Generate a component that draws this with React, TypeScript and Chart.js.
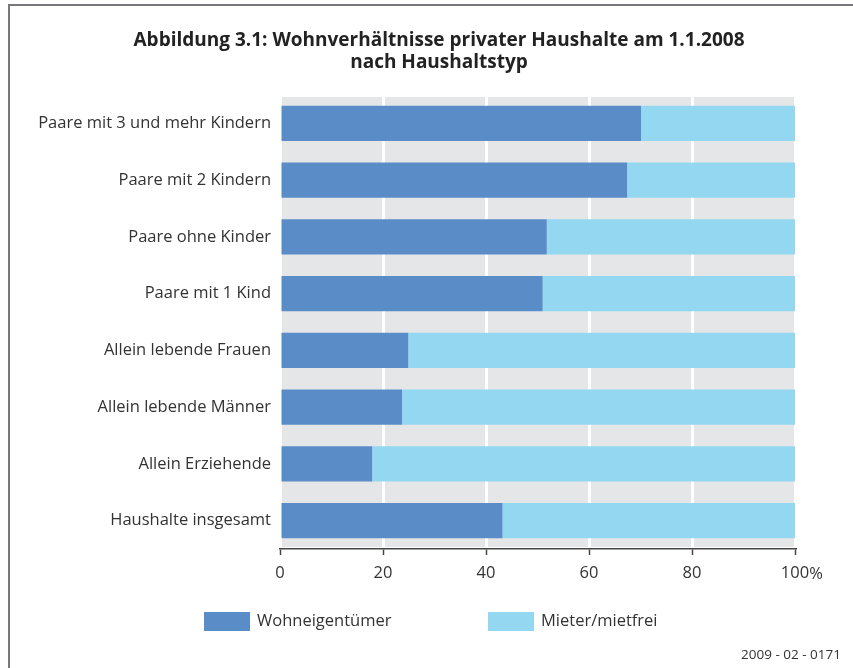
import React, { useEffect, useRef } from "react";
import { Chart, registerables } from "chart.js";

Chart.register(...registerables);

const categories = [
  "Paare mit 3 und mehr Kindern",
  "Paare mit 2 Kindern",
  "Paare ohne Kinder",
  "Paare mit 1 Kind",
  "Allein lebende Frauen",
  "Allein lebende Männer",
  "Allein Erziehende",
  "Haushalte insgesamt",
];
const eigentuemer = [70.1, 67.4, 51.8, 51.0, 24.9, 23.7, 17.9, 43.2];
const mieter = [29.9, 32.6, 48.2, 49.0, 75.1, 76.3, 82.1, 56.8];
const seriesNames = ["Wohneigentümer", "Mieter/mietfrei"];
const xTicks = [0, 20, 40, 60, 80, 100];
const titleLines = [
  "Abbildung 3.1: Wohnverhältnisse privater Haushalte am 1.1.2008",
  "nach Haushaltstyp",
];
const sourceText = "2009 - 02 - 0171";

const DARK = "#5a8dc8";
const LIGHT = "#94d7f0";
const GRAY = "#e5e6e8";
const TEXT = "#333333";
const FONT = "'Open Sans', 'Noto Sans', sans-serif";

const decorPlugin = {
  id: "decor",
  beforeDraw(chart: any) {
    const { ctx, chartArea } = chart;
    ctx.save();
    ctx.fillStyle = "#ffffff";
    ctx.fillRect(0, 0, chart.width, chart.height);
    // frame
    ctx.fillStyle = "#78787c";
    ctx.fillRect(8, 4, chart.width - 8, 2);
    ctx.fillRect(8, 4, 2, chart.height - 4);
    // gray plot background
    ctx.fillStyle = GRAY;
    ctx.fillRect(chartArea.left + 1, chartArea.top + 2, chartArea.right - chartArea.left - 2, chartArea.bottom - chartArea.top - 4);
    ctx.restore();
  },
  afterDraw(chart: any) {
    const { ctx } = chart;
    ctx.save();
    // title
    ctx.fillStyle = "#222222";
    ctx.font = `bold 19px ${FONT}`;
    ctx.textAlign = "center";
    ctx.textBaseline = "middle";
    ctx.fillText(titleLines[0], 439, 41);
    ctx.fillText(titleLines[1], 439, 63);
    // percent sign after 100
    const xs = chart.scales.x;
    ctx.font = `16.5px ${FONT}`;
    ctx.fillStyle = TEXT;
    const w100 = ctx.measureText("100").width;
    ctx.textAlign = "left";
    ctx.fillText("%", xs.getPixelForValue(100) + w100 / 2, 574);
    // legend
    const colors = [DARK, LIGHT];
    const boxX = [204, 488];
    ctx.font = `16.5px ${FONT}`;
    ctx.textBaseline = "middle";
    for (let i = 0; i < 2; i++) {
      ctx.fillStyle = colors[i];
      ctx.fillRect(boxX[i], 612, 46, 19);
      ctx.fillStyle = TEXT;
      ctx.fillText(seriesNames[i], boxX[i] + 53, 621);
    }
    // source
    ctx.font = `13.5px ${FONT}`;
    ctx.textAlign = "right";
    ctx.fillText(sourceText, 841, 655);
    ctx.restore();
  },
};

export default function App() {
  const ref = useRef<HTMLCanvasElement>(null);
  useEffect(() => {
    const chart = new Chart(ref.current!, {
      type: "bar",
      data: {
        labels: categories,
        datasets: [
          { label: seriesNames[0], data: eigentuemer, backgroundColor: DARK, barPercentage: 0.62, categoryPercentage: 1 },
          { label: seriesNames[1], data: mieter, backgroundColor: LIGHT, barPercentage: 0.62, categoryPercentage: 1 },
        ],
      },
      options: {
        indexAxis: "y",
        responsive: false,
        animation: false,
        layout: { padding: { top: 95, right: 58, bottom: 79, left: 0 } },
        plugins: { legend: { display: false }, title: { display: false }, tooltip: { enabled: false } },
        scales: {
          x: {
            stacked: true,
            min: 0,
            max: 100,
            afterBuildTicks: (s: any) => {
              s.ticks = xTicks.map((v) => ({ value: v }));
            },
            afterFit: (s: any) => {
              s.height = 40;
            },
            ticks: {
              color: TEXT,
              font: { family: FONT, size: 16.5 },
              padding: 8,
              maxRotation: 0,
              callback: (v: any) => String(v),
            },
            grid: { color: "#ffffff", lineWidth: 3, tickColor: "#444444", tickLength: 6, tickWidth: 1.5 },
            border: { display: true, color: "#444444", width: 1.5 },
          },
          y: {
            stacked: true,
            afterFit: (s: any) => {
              s.width = 280;
            },
            ticks: { color: TEXT, font: { family: FONT, size: 16.5 }, padding: 9 },
            grid: { display: false, drawTicks: false, tickLength: 0 },
            border: { display: false },
          },
        },
      },
      plugins: [decorPlugin],
    });
    return () => chart.destroy();
  }, []);
  return (
    <div style={{ position: "absolute", left: 0, top: 0, width: 853, height: 668 }}>
      <canvas ref={ref} width={853} height={668} style={{ display: "block" }} />
    </div>
  );
}
